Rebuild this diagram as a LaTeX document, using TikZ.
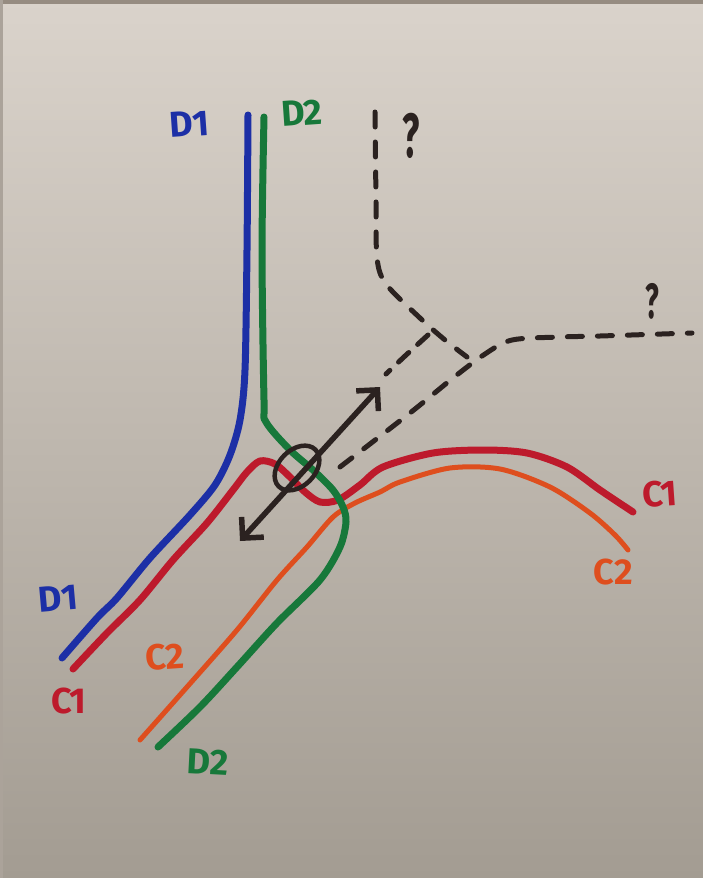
\documentclass[tikz,border=0pt]{standalone}
\usepackage{fontspec}
\usepackage{graphicx}
\setmainfont{Fira Sans}
\usetikzlibrary{arrows.meta}
\definecolor{paperT}{HTML}{DAD3CB}
\definecolor{paperM}{HTML}{CAC5BE}
\definecolor{paperB}{HTML}{A39C92}
\definecolor{edgeC}{HTML}{968C81}
\definecolor{dblue}{HTML}{1C2FA6}
\definecolor{dgreen}{HTML}{17783A}
\definecolor{dred}{HTML}{BD1A2C}
\definecolor{dorange}{HTML}{DE4E1E}
\definecolor{dblack}{HTML}{2B2220}
\tikzset{
  pen/.style={line width=7pt, line cap=round, line join=round},
  thinpen/.style={line width=5pt, line cap=round, line join=round},
  dashpen/.style={line width=5pt, line cap=round, dblack, dash pattern=on 15pt off 15pt},
  lab/.style={font=\fontsize{36}{36}\selectfont\bfseries, inner sep=0pt},
  qmark/.style={font=\fontsize{48}{48}\selectfont\bfseries, inner sep=0pt, text=dblack},
  mybarb/.tip={Straight Barb[length=15pt,width=30pt,line width=5.5pt]}
}
\begin{document}
\begin{tikzpicture}[x=1pt,y=-1pt]
\useasboundingbox (0,0) rectangle (703,878);
\shade[top color=paperT, middle color=paperM, bottom color=paperB] (0,0) rectangle (703,878);
\fill[edgeC] (0,0) rectangle (703,4);
\fill[edgeC!60!paperM] (0,0) rectangle (3,878);

% dashed hypothetical lines
\draw[dashpen] plot[smooth, tension=0.5] coordinates {(375,112) (376,200) (377,258) (386,284) (420,318) (445,340) (467,357)};
\draw[dashpen] plot[smooth, tension=0.5] coordinates {(340,467) (410,413) (453,378) (485,354) (512,340) (560,337) (600,336) (692,333)};
\draw[dashpen, dash pattern=on 14pt off 12pt] plot[smooth, tension=0.5] coordinates {(428,335) (405,356) (386,374)};

% C1 red
\draw[pen, dred] plot[smooth, tension=0.5] coordinates {(73,669) (107,633) (140,600) (173,560) (207,523) (233,490) (247,472) (260,461) (275,464) (290,477) (305,492) (320,502) (338,500) (360,485) (383,467) (433,453) (483,450) (527,453) (567,467) (600,490) (633,512)};
% C2 orange
\draw[thinpen, dorange] plot[smooth, tension=0.5] coordinates {(140,740) (187,687) (237,630) (277,580) (307,547) (333,517) (355,503) (380,492) (400,482) (450,468) (500,469) (550,487) (590,513) (615,535) (628,550)};
% D2 green
\draw[pen, dgreen] plot[smooth, tension=0.5] coordinates {(264,117) (262,250) (264,400) (266,422) (290,450) (313,470) (333,490) (343,507) (346,522) (340,547) (320,580) (277,623) (237,667) (200,707) (158,747)};
% D1 blue
\draw[pen, dblue] plot[smooth, tension=0.5] coordinates {(248,115) (247,250) (245,370) (240,420) (230,455) (215,485) (190,515) (150,558) (117,598) (97,618) (62,658)};

% arrow and ellipse
\coordinate (arrS) at (240,541);
\coordinate (arrE) at (380,387);
\draw[line width=5.5pt, line cap=round, dblack, mybarb-mybarb] (arrS) -- (arrE);
\draw[line width=4.5pt, dblack, rotate around={45:(297,468)}] (297,468) ellipse [x radius=26, y radius=18];

% labels
\node[lab, text=dblue, rotate=4] (d1top) at (189,124) {D1};
\node[lab, text=dgreen, rotate=4] (d2top) at (302,113) {D2};
\node[lab, text=dblue, rotate=5] (d1bot) at (58,598) {D1};
\node[lab, text=dred] (c1bot) at (69,701) {C1};
\node[lab, text=dorange, rotate=4] (c2left) at (165,657) {C2};
\node[lab, text=dgreen, rotate=-3] (d2bot) at (208,762) {D2};
\node[lab, text=dred, rotate=4] (c1right) at (660,494) {C1};
\node[lab, text=dorange] (c2right) at (613,572) {C2};

% question marks
\node[qmark] (q1) at (411,136) {\scalebox{0.75}[1.3]{?}};
\node[qmark, font=\fontsize{38}{38}\selectfont\bfseries] (q2) at (652,301) {\scalebox{0.75}[1.3]{?}};
\end{tikzpicture}
\end{document}
